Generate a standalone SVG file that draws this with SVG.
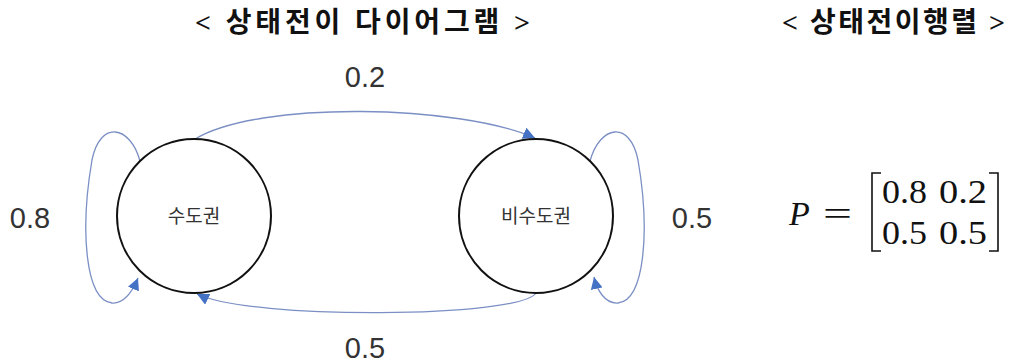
<svg xmlns="http://www.w3.org/2000/svg" width="1020" height="362" viewBox="0 0 1020 362">
<style>
.title{font-family:"Liberation Serif","Noto Sans CJK KR",serif;font-weight:bold;font-size:28px;fill:#111}
.lbl{font-family:"Liberation Sans",sans-serif;font-size:29px;fill:#333;text-anchor:middle}
.node{fill:#fff;stroke:#111;stroke-width:2}
.ntxt{font-family:"Noto Sans CJK KR",sans-serif;font-size:19px;fill:#333;text-anchor:middle}
.edge{fill:none;stroke:#7b8fc4;stroke-width:1.3}
.math{font-family:"Liberation Serif",serif;font-size:34px;fill:#111}
</style>
<defs>
<marker id="arr" markerUnits="userSpaceOnUse" markerWidth="12" markerHeight="12" refX="10" refY="5" orient="auto" viewBox="0 0 10 10">
<path d="M0,0 L10,5 L0,10 z" fill="#4472c4"/>
</marker>
</defs>
<text class="title" x="195" y="32" textLength="335" lengthAdjust="spacing">&lt; 상태전이 다이어그램 &gt;</text>
<text class="title" x="782" y="32" textLength="223" lengthAdjust="spacing">&lt; 상태전이행렬 &gt;</text>
<g id="connectors">
<path class="edge" d="M195,139 C260,100 460,105 535,138" marker-end="url(#arr)"/>
<path class="edge" d="M536,293 C520,318 250,320 197,294" marker-end="url(#arr)"/>
<path class="edge" d="M140,161 C130,125 100,120 92,160 C80,230 85,300 112,303 C125,304 133,290 138,278" marker-end="url(#arr)"/>
<path class="edge" d="M590,161 C600,125 630,120 638,160 C650,230 645,300 618,303 C605,304 597,290 594,277" marker-end="url(#arr)"/>
<text class="lbl" x="365" y="87">0.2</text>
<text class="lbl" x="30" y="228">0.8</text>
<text class="lbl" x="692" y="228">0.5</text>
<text class="lbl" x="365" y="358">0.5</text>
</g>
<g id="node-sudo">
<circle class="node" cx="194" cy="216" r="77"/>
<text class="ntxt" x="194" y="223">수도권</text>
</g>
<g id="node-bisudo">
<circle class="node" cx="536" cy="216" r="77"/>
<text class="ntxt" x="536" y="223">비수도권</text>
</g>
<g id="matrix">
<text class="math" x="789" y="225" font-size="46" font-style="italic">P</text>
<text class="math" x="823" y="225" font-size="46" textLength="29" lengthAdjust="spacingAndGlyphs">=</text>
<path d="M881,173 H872 V251 H881" fill="none" stroke="#111" stroke-width="1.6"/>
<path d="M989,173 H998 V251 H989" fill="none" stroke="#111" stroke-width="1.6"/>
<text class="math" x="882" y="203" textLength="45" lengthAdjust="spacingAndGlyphs">0.8</text>
<text class="math" x="939" y="203" textLength="48" lengthAdjust="spacingAndGlyphs">0.2</text>
<text class="math" x="882" y="244" textLength="45" lengthAdjust="spacingAndGlyphs">0.5</text>
<text class="math" x="939" y="244" textLength="48" lengthAdjust="spacingAndGlyphs">0.5</text>
</g>
</svg>
